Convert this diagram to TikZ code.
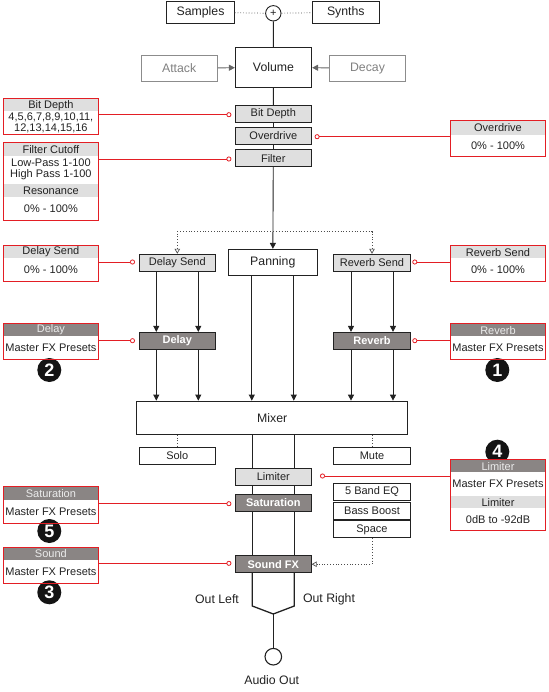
\documentclass[tikz,border=0pt]{standalone}
\usepackage{fontspec}
\setmainfont{Liberation Sans}
\usetikzlibrary{arrows.meta,positioning}
\definecolor{linkred}{HTML}{E31E24}
\definecolor{fxgray}{HTML}{8A8584}
\definecolor{inkgray}{HTML}{222222}

\begin{document}
\begin{tikzpicture}[x=1pt,y=-1pt,>=Stealth,
  font=\fontsize{11}{12}\selectfont,text=inkgray,
  bigtext/.style={font=\fontsize{12.3}{13}\selectfont},
  pval/.style={font=\fontsize{11}{11}\selectfont},
  plainbox/.style={draw=inkgray,line width=0.8pt,minimum width=76pt,minimum height=17pt,inner sep=0pt},
  lightbox/.style={plainbox,fill=gray!25},
  darkbox/.style={plainbox,fill=fxgray,text=white,font=\fontsize{11}{12}\selectfont\bfseries},
  ghostbox/.style={draw=black!45,line width=0.8pt,text=black!50,minimum width=76.3pt,minimum height=26pt,inner sep=0pt,bigtext},
  sumnode/.style={circle,draw=inkgray,line width=0.9pt,minimum size=15.4pt,inner sep=0pt,font=\fontsize{11}{11}\selectfont},
  jack/.style={circle,draw=inkgray,line width=1.1pt,minimum size=16.6pt,inner sep=0pt},
  pframe/.style={draw=linkred,line width=0.9pt,minimum width=95pt,inner sep=0pt,outer sep=0pt},
  pband/.style={anchor=north,fill=gray!25,minimum width=94pt,minimum height=12.4pt,inner sep=0pt,pval},
  pbanddark/.style={pband,fill=fxgray,text=white!92!black},
  plink/.style={draw=linkred,line width=0.8pt,-{Circle[open,length=5pt]}},
  flow/.style={draw=inkgray,line width=0.9pt,-{Triangle[length=6pt,width=6pt]}},
  wire/.style={draw=inkgray,line width=0.9pt},
  jackline/.style={draw=inkgray,line width=1.3pt},
  dots/.style={draw=black!70,line width=0.7pt,dash pattern=on 0.8pt off 2pt},
  badge/.style={circle,fill=black!92,text=white,minimum size=24pt,inner sep=0pt,font=\fontsize{18}{18}\selectfont\bfseries}]
  \useasboundingbox (0,0) rectangle (548,692);

  % sources and envelope
  \node[plainbox,bigtext,minimum width=67.6pt,minimum height=22pt] (samples) at (200.5,12.3) {Samples};
  \node[sumnode] (sum) at (273.3,13.3) {+};
  \node[plainbox,bigtext,minimum width=67pt,minimum height=22pt] (synths) at (345.8,12.3) {Synths};
  \node[plainbox,bigtext,minimum width=76.4pt,minimum height=40pt] (volume) at (273.5,67.3) {Volume};
  \node[ghostbox] (attack) at (179.2,68.3) {Attack};
  \node[ghostbox] (decay) at (367.5,68.3) {Decay};
  \draw[dots] (samples) -- (sum);
  \draw[dots] (sum) -- (synths);
  \draw[wire] (sum) -- (volume);
  \draw[draw=black!60,line width=0.9pt,-{Triangle[length=6pt,width=6pt]},black!60] (attack) -- (volume);
  \draw[draw=black!60,line width=0.9pt,-{Triangle[length=6pt,width=6pt]},black!60] (decay) -- (volume);

  % channel chain
  \node[lightbox] (bitdepth) at (273.3,113.8) {Bit Depth};
  \node[lightbox] (overdrive) at (273.3,135.7) {Overdrive};
  \node[lightbox] (filter) at (273.3,158.3) {Filter};
  \node[lightbox] (dsend) at (177.3,262.7) {Delay Send};
  \node[plainbox,bigtext,minimum width=89pt,minimum height=26pt] (panning) at (272.8,262.3) {Panning};
  \node[lightbox,minimum width=77.4pt] (rsend) at (372,262.7) {Reverb Send};
  \node[darkbox] (delay) at (177.3,340.8) {Delay};
  \node[darkbox,minimum width=77.4pt] (reverb) at (372,340.8) {Reverb};
  \draw[wire] (volume) -- (bitdepth);
  \draw[wire] (bitdepth) -- (overdrive);
  \draw[wire] (overdrive) -- (filter);
  \draw[flow] (filter) -- (panning);
  \coordinate (split) at (273.3,231.7);
  \draw[dots,-{Triangle[open,length=5pt,width=5.5pt]}] (split) -| (dsend);
  \draw[dots,-{Triangle[open,length=5pt,width=5.5pt]}] (split) -| (rsend);

  % mixer and master chain
  \node[plainbox,bigtext,minimum width=271pt,minimum height=33.3pt] (mixer) at (272.2,417.7) {Mixer};
  \node[plainbox] (solo) at (177.3,456) {Solo};
  \node[plainbox,minimum width=77.4pt] (mute) at (372,456) {Mute};
  \node[lightbox] (limiter) at (273.3,476.7) {Limiter};
  \node[darkbox] (saturation) at (273.3,502.8) {Saturation};
  \node[plainbox,minimum width=77.4pt] (eq) at (372,491.7) {5 Band EQ};
  \node[plainbox,minimum width=77.4pt] (boost) at (372,510.8) {Bass Boost};
  \node[plainbox,minimum width=77.4pt] (space) at (372,529.3) {Space};
  \node[darkbox] (soundfx) at (273.3,564.2) {Sound FX};
  \node[jack] (out) at (273.3,656.7) {};
  \node[bigtext] (outl) at (217,599) {Out Left};
  \node[bigtext] (outr) at (329,599) {Out Right};
  \node[bigtext] (audio) at (271.7,680.3) {Audio Out};

  \foreach \a/\b in {dsend/delay,rsend/reverb}
    \foreach \dx in {-21,21}
      \draw[flow] ([xshift=\dx pt]\a.south) -- ([xshift=\dx pt]\b.north);
  \foreach \a in {delay,panning,reverb}
    \foreach \dx in {-21,21}
      \draw[flow] ([xshift=\dx pt]\a.south) -- ([xshift=\dx pt]\a.south |- mixer.north);
  \draw[dots] (solo.north |- mixer.south) -- (solo);
  \draw[dots] (mute.north |- mixer.south) -- (mute);
  \foreach \dx in {-21,21} {
    \draw[wire] ([xshift=\dx pt]limiter.north |- mixer.south) -- ([xshift=\dx pt]limiter.north);
    \draw[wire] ([xshift=\dx pt]limiter.south) -- ([xshift=\dx pt]saturation.north);
    \draw[wire] ([xshift=\dx pt]saturation.south) -- ([xshift=\dx pt]soundfx.north);
  }
  \draw[dots,-{Triangle[open,length=5pt,width=5.5pt]}] (space) |- (soundfx);

  % stereo out to jack
  \coordinate (jl) at (252.3,606);
  \coordinate (jr) at (294.3,606);
  \coordinate (jc) at (273.3,614);
  \draw[jackline] ([xshift=-21pt]soundfx.south) -- (jl) -- (jc) -- (jr) -- ([xshift=21pt]soundfx.south);
  \draw[jackline] (jc) -- (out);

  % parameter panels, left side
  \node[pframe,minimum height=35.7pt] (pbit) at (50.9,116.2) {};
  \node[pband] (pbith) at ([yshift=-0.45pt]pbit.north) {Bit Depth};
  \node[pval,align=center] (pbitv) at (50.9,122.5) {4,5,6,7,8,9,10,11,\\12,13,14,15,16};
  \coordinate (cbit) at (231.4,114.7);
  \draw[plink] (pbit.east |- cbit) -- (cbit);

  \node[pframe,minimum height=78pt] (pcut) at (50.9,181.7) {};
  \node[pband] (pcuth) at ([yshift=-0.45pt]pcut.north) {Filter Cutoff};
  \node[pval,align=center] (pcutv) at (50.9,169.2) {Low-Pass 1-100\\High Pass 1-100};
  \node[pband] (preso) at ([yshift=-41.6pt]pcut.north) {Resonance};
  \node[pval] (presov) at (50.9,208.7) {0\% - 100\%};
  \coordinate (ccut) at (231.4,159);
  \draw[plink] (pcut.east |- ccut) -- (ccut);

  \node[pframe,minimum height=36pt] (pdsend) at (50.9,263.3) {};
  \node[pband] (pdsendh) at ([yshift=-0.45pt]pdsend.north) {Delay Send};
  \node[pval] (pdsendv) at (50.9,269.5) {0\% - 100\%};
  \coordinate (cdsend) at (135,262);
  \draw[plink] (pdsend.east |- cdsend) -- (cdsend);

  \node[badge] (b2) at (49.3,370) {2};
  \node[pframe,minimum height=36.4pt] (pdelay) at (50.9,341.5) {};
  \node[pbanddark] (pdelayh) at ([yshift=-0.45pt]pdelay.north) {Delay};
  \node[pval] (pdelayv) at (50.9,347.7) {Master FX Presets};
  \coordinate (cdelay) at (135,340.7);
  \draw[plink] (pdelay.east |- cdelay) -- (cdelay);

  \node[badge] (b5) at (49.3,531) {5};
  \node[pframe,minimum height=37.4pt] (psat) at (50.9,505) {};
  \node[pbanddark,minimum height=12.7pt] (psath) at ([yshift=-0.45pt]psat.north) {Saturation};
  \node[pval] (psatv) at (50.9,511.3) {Master FX Presets};
  \coordinate (csat) at (231.4,503.7);
  \draw[plink] (psat.east |- csat) -- (csat);

  \node[badge] (b3) at (49.3,592.3) {3};
  \node[pframe,minimum height=36.7pt] (psnd) at (50.9,565.3) {};
  \node[pbanddark] (psndh) at ([yshift=-0.45pt]psnd.north) {Sound};
  \node[pval] (psndv) at (50.9,571.5) {Master FX Presets};
  \coordinate (csnd) at (231.4,563.3);
  \draw[plink] (psnd.east |- csnd) -- (csnd);

  % parameter panels, right side
  \node[pframe,minimum height=36.3pt] (pover) at (498,138.2) {};
  \node[pband,minimum height=14pt] (poverh) at ([yshift=-0.45pt]pover.north) {Overdrive};
  \node[pval] (poverv) at (498,145.5) {0\% - 100\%};
  \coordinate (cover) at (314.6,136.7);
  \draw[plink] (pover.west |- cover) -- (cover);

  \node[pframe,minimum height=36pt] (prsend) at (498,263.3) {};
  \node[pband] (prsendh) at ([yshift=-0.45pt]prsend.north) {Reverb Send};
  \node[pval] (prsendv) at (498,269.5) {0\% - 100\%};
  \coordinate (crsend) at (412.3,262);
  \draw[plink] (prsend.west |- crsend) -- (crsend);

  \node[badge] (b1) at (497.3,370) {1};
  \node[pframe,minimum height=36.4pt] (preverb) at (498,341.5) {};
  \node[pbanddark] (preverbh) at ([yshift=-0.45pt]preverb.north) {Reverb};
  \node[pval] (preverbv) at (498,347.7) {Master FX Presets};
  \coordinate (creverb) at (412.3,340.7);
  \draw[plink] (preverb.west |- creverb) -- (creverb);

  \node[badge] (b4) at (497.3,451.7) {4};
  \node[pframe,minimum height=71pt] (plim) at (498,494.8) {};
  \node[pbanddark] (plimh) at ([yshift=-0.45pt]plim.north) {Limiter};
  \node[pval] (plimv) at (498,483.7) {Master FX Presets};
  \node[pband] (plimb) at ([yshift=-36.4pt]plim.north) {Limiter};
  \node[pval] (plimr) at (498,519.3) {0dB to -92dB};
  \coordinate (clim) at (320,476);
  \draw[plink] (plim.west |- clim) -- (clim);
\end{tikzpicture}
\end{document}
